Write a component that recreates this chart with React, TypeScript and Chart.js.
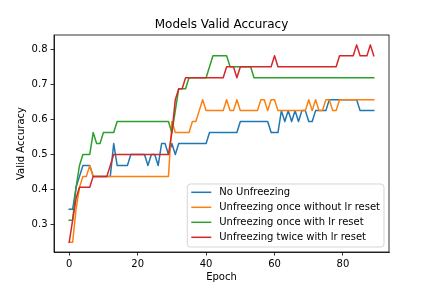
import React, { useEffect, useRef } from "react";
import { Chart, registerables } from "chart.js";

Chart.register(...registerables);

const epochs = [
  0, 1, 2, 3, 4, 5, 6, 7, 8, 9, 10, 11, 12, 13, 14, 15, 16, 17, 18, 19,
  20, 21, 22, 23, 24, 25, 26, 27, 28, 29, 30, 31, 32, 33, 34, 35, 36, 37, 38, 39,
  40, 41, 42, 43, 44, 45, 46, 47, 48, 49, 50, 51, 52, 53, 54, 55, 56, 57, 58, 59,
  60, 61, 62, 63, 64, 65, 66, 67, 68, 69, 70, 71, 72, 73, 74, 75, 76, 77, 78, 79,
  80, 81, 82, 83, 84, 85, 86, 87, 88, 89,
];

const noUnfreezing = [
  0.34375, 0.34375, 0.40625, 0.4375, 0.46875, 0.46875, 0.46875, 0.4375, 0.4375, 0.4375,
  0.4375, 0.4375, 0.4375, 0.53125, 0.46875, 0.46875, 0.46875, 0.46875, 0.5, 0.5,
  0.5, 0.5, 0.5, 0.46875, 0.5, 0.5, 0.46875, 0.53125, 0.53125, 0.5,
  0.53125, 0.5, 0.53125, 0.53125, 0.53125, 0.53125, 0.53125, 0.53125, 0.53125, 0.53125,
  0.53125, 0.5625, 0.5625, 0.5625, 0.5625, 0.5625, 0.5625, 0.5625, 0.5625, 0.5625,
  0.59375, 0.59375, 0.59375, 0.59375, 0.59375, 0.59375, 0.59375, 0.59375, 0.59375, 0.5625,
  0.5625, 0.5625, 0.625, 0.59375, 0.625, 0.59375, 0.625, 0.59375, 0.625, 0.625,
  0.59375, 0.59375, 0.625, 0.625, 0.625, 0.625, 0.65625, 0.65625, 0.65625, 0.65625,
  0.65625, 0.65625, 0.65625, 0.65625, 0.65625, 0.625, 0.625, 0.625, 0.625, 0.625,
];

const onceNoReset = [
  0.25, 0.25, 0.34375, 0.40625, 0.4375, 0.4375, 0.46875, 0.4375, 0.4375, 0.4375,
  0.4375, 0.4375, 0.4375, 0.4375, 0.4375, 0.4375, 0.4375, 0.4375, 0.4375, 0.4375,
  0.4375, 0.4375, 0.4375, 0.4375, 0.4375, 0.4375, 0.4375, 0.4375, 0.4375, 0.4375,
  0.59375, 0.5625, 0.5625, 0.5625, 0.5625, 0.5625, 0.59375, 0.59375, 0.625, 0.65625,
  0.625, 0.625, 0.625, 0.625, 0.625, 0.625, 0.65625, 0.625, 0.625, 0.65625,
  0.625, 0.625, 0.625, 0.625, 0.625, 0.625, 0.65625, 0.65625, 0.625, 0.65625,
  0.65625, 0.625, 0.625, 0.625, 0.625, 0.625, 0.625, 0.625, 0.625, 0.625,
  0.65625, 0.625, 0.65625, 0.625, 0.625, 0.65625, 0.65625, 0.625, 0.625, 0.65625,
  0.65625, 0.65625, 0.65625, 0.65625, 0.65625, 0.65625, 0.65625, 0.65625, 0.65625, 0.65625,
];

const onceReset = [
  0.3125, 0.3125, 0.40625, 0.46875, 0.5, 0.5, 0.5, 0.5625, 0.53125, 0.53125,
  0.5625, 0.5625, 0.5625, 0.5625, 0.59375, 0.59375, 0.59375, 0.59375, 0.59375, 0.59375,
  0.59375, 0.59375, 0.59375, 0.59375, 0.59375, 0.59375, 0.59375, 0.59375, 0.59375, 0.59375,
  0.5625, 0.625, 0.6875, 0.6875, 0.6875, 0.71875, 0.71875, 0.71875, 0.71875, 0.71875,
  0.71875, 0.75, 0.78125, 0.78125, 0.78125, 0.78125, 0.78125, 0.75, 0.75, 0.75,
  0.75, 0.75, 0.75, 0.75, 0.71875, 0.71875, 0.71875, 0.71875, 0.71875, 0.71875,
  0.71875, 0.71875, 0.71875, 0.71875, 0.71875, 0.71875, 0.71875, 0.71875, 0.71875, 0.71875,
  0.71875, 0.71875, 0.71875, 0.71875, 0.71875, 0.71875, 0.71875, 0.71875, 0.71875, 0.71875,
  0.71875, 0.71875, 0.71875, 0.71875, 0.71875, 0.71875, 0.71875, 0.71875, 0.71875, 0.71875,
];

const twiceReset = [
  0.25, 0.3125, 0.375, 0.40625, 0.40625, 0.40625, 0.40625, 0.4375, 0.4375, 0.4375,
  0.4375, 0.4375, 0.46875, 0.5, 0.5, 0.5, 0.5, 0.5, 0.5, 0.5,
  0.5, 0.5, 0.5, 0.5, 0.5, 0.5, 0.5, 0.5, 0.5, 0.5,
  0.5625, 0.65625, 0.6875, 0.6875, 0.71875, 0.71875, 0.71875, 0.71875, 0.71875, 0.71875,
  0.71875, 0.71875, 0.71875, 0.71875, 0.71875, 0.71875, 0.75, 0.75, 0.75, 0.71875,
  0.75, 0.75, 0.75, 0.75, 0.75, 0.75, 0.75, 0.75, 0.75, 0.75,
  0.78125, 0.75, 0.75, 0.75, 0.75, 0.75, 0.75, 0.75, 0.75, 0.75,
  0.75, 0.75, 0.75, 0.75, 0.75, 0.75, 0.75, 0.75, 0.75, 0.78125,
  0.78125, 0.78125, 0.78125, 0.78125, 0.8125, 0.78125, 0.78125, 0.78125, 0.8125, 0.78125,
];

const seriesNames = [
  "No Unfreezing",
  "Unfreezing once without lr reset",
  "Unfreezing once with lr reset",
  "Unfreezing twice with lr reset",
];
const seriesColors = ["#1f77b4", "#ff7f0e", "#2ca02c", "#d62728"];
const seriesValues = [noUnfreezing, onceNoReset, onceReset, twiceReset];

const xTicks = [0, 20, 40, 60, 80];
const yTicks = [0.3, 0.4, 0.5, 0.6, 0.7, 0.8];

const FONT = "DejaVu Sans";

const framePlugin = {
  id: "frame",
  afterDatasetsDraw(chart: any) {
    const { ctx, chartArea } = chart;
    const { left, top, right, bottom } = chartArea;
    ctx.save();
    ctx.strokeStyle = "#000";
    ctx.lineWidth = 0.8;
    ctx.strokeRect(left, top, right - left, bottom - top);
    ctx.restore();
  },
};

const legendPlugin = {
  id: "innerLegend",
  afterDraw(chart: any) {
    const { ctx, chartArea } = chart;
    ctx.save();
    ctx.font = `10px "${FONT}"`;
    let maxW = 0;
    seriesNames.forEach((n) => {
      maxW = Math.max(maxW, ctx.measureText(n).width);
    });
    const pad = 4;
    const handle = 20;
    const gap = 8;
    const rowH = 15;
    const boxRight = chartArea.right - 5;
    const boxBottom = chartArea.bottom - 5;
    const boxW = pad + handle + gap + maxW + pad;
    const boxH = 63;
    const boxLeft = boxRight - boxW;
    const boxTop = boxBottom - boxH;
    const r = 3;
    ctx.beginPath();
    ctx.moveTo(boxLeft + r, boxTop);
    ctx.lineTo(boxRight - r, boxTop);
    ctx.quadraticCurveTo(boxRight, boxTop, boxRight, boxTop + r);
    ctx.lineTo(boxRight, boxBottom - r);
    ctx.quadraticCurveTo(boxRight, boxBottom, boxRight - r, boxBottom);
    ctx.lineTo(boxLeft + r, boxBottom);
    ctx.quadraticCurveTo(boxLeft, boxBottom, boxLeft, boxBottom - r);
    ctx.lineTo(boxLeft, boxTop + r);
    ctx.quadraticCurveTo(boxLeft, boxTop, boxLeft + r, boxTop);
    ctx.closePath();
    ctx.fillStyle = "rgba(255,255,255,0.8)";
    ctx.fill();
    ctx.strokeStyle = "rgba(204,204,204,0.8)";
    ctx.lineWidth = 1;
    ctx.stroke();
    seriesNames.forEach((n, i) => {
      const y = boxTop + 8.3 + rowH * i;
      ctx.beginPath();
      ctx.strokeStyle = seriesColors[i];
      ctx.lineWidth = 1.5;
      ctx.moveTo(boxLeft + pad, y);
      ctx.lineTo(boxLeft + pad + handle, y);
      ctx.stroke();
      ctx.fillStyle = "#000";
      ctx.textBaseline = "middle";
      ctx.textAlign = "left";
      ctx.fillText(n, boxLeft + pad + handle + gap, y);
    });
    ctx.restore();
  },
};

export default function App() {
  const ref = useRef<HTMLCanvasElement | null>(null);

  useEffect(() => {
    if (!ref.current) return;
    Chart.defaults.font.family = FONT;
    const chart = new Chart(ref.current, {
      type: "line",
      data: {
        datasets: seriesValues.map((vals, i) => ({
          label: seriesNames[i],
          data: epochs.map((e, j) => ({ x: e, y: vals[j] })),
          borderColor: seriesColors[i],
          backgroundColor: seriesColors[i],
          borderWidth: 1.5,
          pointRadius: 0,
          tension: 0,
          fill: false,
          borderJoinStyle: "round",
          borderCapStyle: "square",
          order: 4 - i,
        })),
      },
      options: {
        animation: false,
        responsive: false,
        maintainAspectRatio: false,
        devicePixelRatio: 1,
        layout: { padding: { left: 0, right: 43, top: 0, bottom: 0 } },
        plugins: {
          legend: { display: false },
          tooltip: { enabled: false },
          title: {
            display: true,
            fullSize: false,
            text: "Models Valid Accuracy",
            color: "#000",
            font: { family: FONT, size: 12, weight: "normal", lineHeight: 1.2 },
            padding: { top: 18, bottom: 2.6 },
          },
        },
        scales: {
          x: {
            type: "linear",
            min: -4.45,
            max: 93.45,
            afterBuildTicks: (axis: any) => {
              axis.ticks = xTicks.map((v) => ({ value: v }));
            },
            afterFit: (axis: any) => {
              axis.height = 36;
            },
            ticks: {
              color: "#000",
              font: { family: FONT, size: 10 },
              padding: 3,
              maxRotation: 0,
              autoSkip: false,
              callback: (v: any) => String(v),
            },
            grid: {
              display: true,
              drawOnChartArea: false,
              drawTicks: true,
              tickLength: 3.5,
              color: "#000",
              lineWidth: 0.8,
            },
            border: { display: true, color: "#000", width: 0.8 },
            title: {
              display: true,
              text: "Epoch",
              color: "#000",
              font: { family: FONT, size: 10, lineHeight: 1.2 },
              padding: { top: 0, bottom: 5 },
            },
          },
          y: {
            type: "linear",
            min: 0.221875,
            max: 0.840625,
            afterBuildTicks: (axis: any) => {
              axis.ticks = yTicks.map((v) => ({ value: v }));
            },
            afterFit: (axis: any) => {
              axis.width = 54;
            },
            ticks: {
              color: "#000",
              font: { family: FONT, size: 10 },
              padding: 3,
              autoSkip: false,
              callback: (v: any) => Number(v).toFixed(1),
            },
            grid: {
              display: true,
              drawOnChartArea: false,
              drawTicks: true,
              tickLength: 3.5,
              color: "#000",
              lineWidth: 0.8,
            },
            border: { display: true, color: "#000", width: 0.8 },
            title: {
              display: true,
              text: "Valid Accuracy",
              color: "#000",
              font: { family: FONT, size: 10, lineHeight: 1.2 },
              padding: { top: 15, bottom: 0 },
            },
          },
        },
      },
      plugins: [framePlugin, legendPlugin],
    } as any);
    return () => chart.destroy();
  }, []);

  return (
    <canvas
      ref={ref}
      width={432}
      height={288}
      style={{ position: "fixed", left: 0, top: 0, width: 432, height: 288, display: "block" }}
    />
  );
}
